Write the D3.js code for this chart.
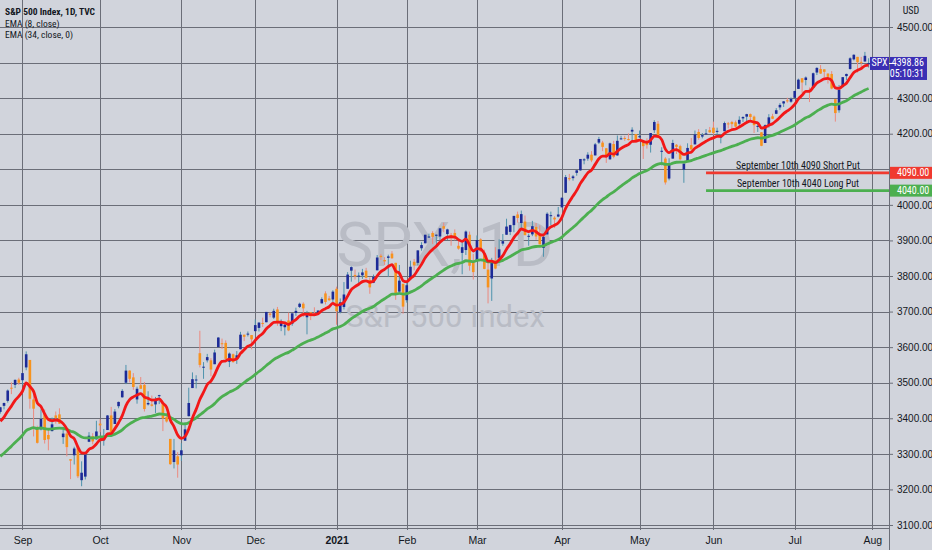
<!DOCTYPE html>
<html>
<head>
<meta charset="utf-8">
<style>
body { margin: 0; background: #d1d4dc; }
svg { display: block; font-family: "Liberation Sans Narrow", "Roboto Condensed", Roboto, "Noto Sans", sans-serif; }
</style>
</head>
<body>
<svg width="932" height="550"></svg>
<script src="https://d3js.org/d3.v7.min.js"></script>
<script>

// daily bars, SPX, 24 Aug 2020 - 30 Jul 2021
var dates = [
  "2020-08-24","2020-08-25","2020-08-26","2020-08-27","2020-08-28","2020-08-31",
  "2020-09-01","2020-09-02","2020-09-03","2020-09-04","2020-09-08","2020-09-09","2020-09-10","2020-09-11","2020-09-14","2020-09-15","2020-09-16","2020-09-17","2020-09-18","2020-09-21","2020-09-22","2020-09-23","2020-09-24","2020-09-25","2020-09-28","2020-09-29","2020-09-30",
  "2020-10-01","2020-10-02","2020-10-05","2020-10-06","2020-10-07","2020-10-08","2020-10-09","2020-10-12","2020-10-13","2020-10-14","2020-10-15","2020-10-16","2020-10-19","2020-10-20","2020-10-21","2020-10-22","2020-10-23","2020-10-26","2020-10-27","2020-10-28","2020-10-29","2020-10-30",
  "2020-11-02","2020-11-03","2020-11-04","2020-11-05","2020-11-06","2020-11-09","2020-11-10","2020-11-11","2020-11-12","2020-11-13","2020-11-16","2020-11-17","2020-11-18","2020-11-19","2020-11-20","2020-11-23","2020-11-24","2020-11-25","2020-11-27","2020-11-30",
  "2020-12-01","2020-12-02","2020-12-03","2020-12-04","2020-12-07","2020-12-08","2020-12-09","2020-12-10","2020-12-11","2020-12-14","2020-12-15","2020-12-16","2020-12-17","2020-12-18","2020-12-21","2020-12-22","2020-12-23","2020-12-24","2020-12-28","2020-12-29","2020-12-30","2020-12-31",
  "2021-01-04","2021-01-05","2021-01-06","2021-01-07","2021-01-08","2021-01-11","2021-01-12","2021-01-13","2021-01-14","2021-01-15","2021-01-19","2021-01-20","2021-01-21","2021-01-22","2021-01-25","2021-01-26","2021-01-27","2021-01-28","2021-01-29",
  "2021-02-01","2021-02-02","2021-02-03","2021-02-04","2021-02-05","2021-02-08","2021-02-09","2021-02-10","2021-02-11","2021-02-12","2021-02-16","2021-02-17","2021-02-18","2021-02-19","2021-02-22","2021-02-23","2021-02-24","2021-02-25","2021-02-26",
  "2021-03-01","2021-03-02","2021-03-03","2021-03-04","2021-03-05","2021-03-08","2021-03-09","2021-03-10","2021-03-11","2021-03-12","2021-03-15","2021-03-16","2021-03-17","2021-03-18","2021-03-19","2021-03-22","2021-03-23","2021-03-24","2021-03-25","2021-03-26","2021-03-29","2021-03-30","2021-03-31",
  "2021-04-01","2021-04-05","2021-04-06","2021-04-07","2021-04-08","2021-04-09","2021-04-12","2021-04-13","2021-04-14","2021-04-15","2021-04-16","2021-04-19","2021-04-20","2021-04-21","2021-04-22","2021-04-23","2021-04-26","2021-04-27","2021-04-28","2021-04-29","2021-04-30",
  "2021-05-03","2021-05-04","2021-05-05","2021-05-06","2021-05-07","2021-05-10","2021-05-11","2021-05-12","2021-05-13","2021-05-14","2021-05-17","2021-05-18","2021-05-19","2021-05-20","2021-05-21","2021-05-24","2021-05-25","2021-05-26","2021-05-27","2021-05-28",
  "2021-06-01","2021-06-02","2021-06-03","2021-06-04","2021-06-07","2021-06-08","2021-06-09","2021-06-10","2021-06-11","2021-06-14","2021-06-15","2021-06-16","2021-06-17","2021-06-18","2021-06-21","2021-06-22","2021-06-23","2021-06-24","2021-06-25","2021-06-28","2021-06-29","2021-06-30",
  "2021-07-01","2021-07-02","2021-07-06","2021-07-07","2021-07-08","2021-07-09","2021-07-12","2021-07-13","2021-07-14","2021-07-15","2021-07-16","2021-07-19","2021-07-20","2021-07-21","2021-07-22","2021-07-23","2021-07-26","2021-07-27","2021-07-28","2021-07-29","2021-07-30"
];

var open = [
  3418,3435,3449,3486,3494,3509,
  3507,3543,3564,3453,3371,3369,3413,3353,3364,3408,3411,3347,3357,3285,3296,3321,3226,3236,3334,3350,3341,
  3385,3338,3367,3408,3384,3434,3459,3500,3534,3515,3453,3493,3494,3439,3439,3439,3464,3441,3404,3342,3277,3293,
  3296,3337,3406,3485,3509,3583,3544,3563,3563,3552,3600,3611,3612,3559,3580,3567,3594,3635,3638,3634,
  3645,3654,3668,3670,3694,3683,3706,3659,3656,3675,3666,3696,3713,3722,3684,3698,3693,3694,3723,3751,3737,3734,
  3764,3699,3713,3764,3815,3803,3801,3802,3815,3789,3781,3816,3857,3845,3851,3863,3837,3756,3778,
  3732,3791,3840,3837,3878,3892,3911,3921,3916,3911,3940,3918,3915,3921,3885,3865,3873,3916,3839,
  3842,3903,3864,3818,3793,3844,3851,3891,3916,3924,3943,3973,3949,3953,3913,3917,3938,3919,3879,3917,3969,3964,3967,
  3993,4034,4075,4075,4090,4097,4125,4130,4141,4139,4175,4175,4159,4128,4171,4139,4186,4188,4185,4206,4199,
  4191,4179,4177,4169,4210,4228,4150,4130,4074,4130,4169,4165,4099,4121,4168,4170,4205,4192,4201,4210,
  4217,4206,4191,4207,4229,4233,4232,4228,4243,4248,4255,4248,4220,4204,4174,4225,4249,4256,4274,4285,4294,4290,
  4301,4326,4356,4351,4321,4329,4372,4382,4381,4369,4368,4297,4266,4331,4362,4382,4409,4416,4402,4403,4395
];

var high = [
  3432,3444,3481,3501,3509,3514,
  3528,3588,3564,3479,3379,3425,3425,3368,3402,3419,3428,3376,3363,3285,3320,3324,3279,3306,3361,3358,3393,
  3397,3370,3409,3432,3426,3447,3482,3550,3535,3527,3489,3516,3502,3476,3464,3460,3466,3441,3409,3342,3342,3305,
  3330,3389,3486,3529,3521,3646,3558,3581,3569,3593,3628,3624,3619,3585,3582,3589,3643,3635,3644,3634,
  3678,3670,3683,3699,3698,3708,3713,3678,3665,3697,3695,3711,3725,3726,3702,3698,3712,3703,3740,3757,3744,3760,
  3770,3737,3783,3811,3827,3818,3810,3820,3823,3796,3804,3859,3862,3853,3860,3870,3837,3831,3778,
  3784,3843,3848,3872,3895,3916,3919,3926,3917,3935,3950,3933,3921,3931,3902,3895,3928,3925,3862,
  3914,3906,3874,3843,3851,3881,3903,3918,3961,3944,3969,3981,3984,3970,3919,3955,3949,3942,3919,3979,3981,3968,3994,
  4021,4084,4087,4084,4098,4129,4131,4148,4151,4174,4191,4180,4160,4175,4180,4195,4194,4194,4201,4218,4199,
  4209,4179,4187,4202,4238,4236,4162,4134,4131,4183,4171,4169,4116,4173,4188,4209,4213,4202,4213,4219,
  4234,4217,4198,4234,4233,4236,4237,4249,4249,4256,4257,4251,4233,4204,4226,4255,4256,4272,4286,4292,4301,4302,
  4321,4355,4356,4361,4330,4372,4387,4393,4381,4370,4376,4297,4337,4359,4369,4415,4423,4416,4416,4430,4412
];

var low = [
  3413,3425,3444,3468,3485,3494,
  3494,3535,3427,3349,3329,3366,3329,3310,3363,3385,3384,3328,3293,3229,3270,3232,3209,3228,3333,3327,3340,
  3361,3323,3367,3354,3384,3428,3458,3496,3501,3480,3441,3483,3419,3436,3433,3415,3440,3364,3388,3269,3259,3233,
  3280,3337,3405,3485,3484,3543,3511,3557,3518,3552,3600,3595,3567,3544,3556,3553,3594,3617,3630,3594,
  3645,3644,3657,3670,3684,3679,3660,3645,3633,3645,3660,3688,3710,3685,3636,3676,3689,3690,3723,3720,3730,3726,
  3663,3695,3706,3764,3784,3790,3777,3792,3793,3750,3780,3816,3845,3831,3797,3848,3733,3756,3694,
  3725,3791,3816,3830,3871,3892,3907,3890,3885,3896,3923,3901,3885,3900,3874,3805,3859,3815,3790,
  3842,3868,3819,3723,3730,3819,3851,3885,3916,3915,3923,3950,3935,3914,3885,3912,3902,3889,3854,3917,3943,3935,3965,
  3993,4034,4068,4068,4082,4096,4114,4124,4120,4139,4171,4151,4118,4127,4131,4138,4183,4180,4181,4177,4174,
  4188,4129,4158,4147,4202,4188,4111,4057,4069,4130,4143,4125,4062,4121,4151,4170,4183,4187,4198,4203,
  4197,4198,4173,4207,4215,4211,4219,4220,4233,4234,4238,4202,4205,4165,4174,4217,4241,4255,4267,4275,4287,4287,
  4301,4326,4315,4336,4289,4329,4365,4368,4359,4341,4325,4234,4259,4331,4351,4380,4406,4372,4388,4403,4386
];

var close = [
  3431,3443,3478,3484,3508,3500,
  3527,3580,3455,3427,3331,3398,3339,3341,3383,3401,3385,3357,3319,3281,3315,3237,3247,3298,3351,3335,3363,
  3380,3348,3408,3361,3419,3446,3477,3534,3511,3488,3483,3483,3426,3443,3435,3453,3465,3400,3391,3271,3310,3270,
  3310,3369,3443,3510,3509,3550,3545,3572,3537,3585,3627,3610,3567,3582,3558,3577,3635,3629,3638,3622,
  3662,3669,3666,3699,3692,3702,3673,3668,3663,3647,3695,3702,3722,3709,3694,3687,3690,3703,3735,3727,3732,3756,
  3701,3726,3748,3804,3825,3799,3801,3810,3795,3768,3798,3852,3853,3841,3855,3850,3750,3787,3714,
  3774,3826,3830,3872,3887,3916,3911,3910,3916,3934,3933,3931,3913,3907,3877,3881,3925,3829,3811,
  3901,3870,3820,3768,3842,3821,3875,3898,3939,3943,3969,3963,3974,3915,3913,3940,3911,3889,3910,3975,3971,3959,3973,
  4020,4078,4074,4080,4097,4129,4128,4141,4125,4170,4185,4163,4135,4173,4135,4180,4187,4186,4184,4211,4181,
  4193,4165,4168,4202,4233,4189,4152,4063,4113,4174,4163,4128,4116,4160,4156,4198,4188,4196,4201,4204,
  4202,4208,4192,4230,4227,4227,4220,4239,4247,4255,4247,4224,4222,4166,4224,4246,4242,4266,4281,4291,4291,4298,
  4320,4352,4344,4358,4320,4370,4385,4369,4374,4360,4327,4258,4323,4359,4368,4412,4422,4401,4400,4419,4398.86
];

// EMA values on the first visible bar
var ema8Start = 3392;
var ema34Start = 3293;

var monthLabels = ["Sep", "Oct", "Nov", "Dec", "2021", "Feb", "Mar", "Apr", "May", "Jun", "Jul", "Aug"];
var priceTicks = [3100, 3200, 3300, 3400, 3500, 3600, 3700, 3800, 3900, 4000, 4100, 4200, 4300, 4400, 4500];

var putLevels = [4090, 4040];
var putLabels = ["September 10th 4090 Short Put", "September 10th 4040 Long Put"];
var putStart = "2021-05-27";   // bar where the put lines begin

var symbol = "SPX", countdown = "05:10:31";
var legendLines = ["S&P 500 Index, 1D, TVC", "EMA (8, close)", "EMA (34, close, 0)"];

var svg = d3.select("svg"),
    W = +svg.attr("width"),
    H = +svg.attr("height"),
    paneW = 889,
    paneH = 528;

var n = close.length;

// one slot per trading day, plus the next (future) bar for the Aug tick
var x = d3.scaleLinear().domain([0, n]).range([0.33, 872.3]);
var y = d3.scaleLinear().domain([3100, 4500]).range([525, 27]);

function ema(values, len, start) {
  var a = 2 / (len + 1), out = [start];
  for (var i = 1; i < values.length; i++) out.push(a * values[i] + (1 - a) * out[i - 1]);
  return out;
}
var ema8 = ema(close, 8, ema8Start),
    ema34 = ema(close, 34, ema34Start);

// month starts
var monthIdx = [];
dates.forEach(function(d, i) {
  if (i > 0 && d.slice(5, 7) != dates[i - 1].slice(5, 7)) monthIdx.push(i);
});
monthIdx.push(n);

var last = close[n - 1];
var tagLevels = putLevels.concat([last]);

svg.append("rect").attr("width", W).attr("height", H).attr("fill", "#d1d4dc");

svg.append("clipPath").attr("id", "pane")
  .append("rect").attr("width", paneW).attr("height", paneH);

var grid = svg.append("g").attr("stroke", "#6b6e78").attr("stroke-width", 1);
grid.selectAll(".h").data(priceTicks).enter().append("line")
    .attr("x1", 0).attr("x2", paneW)
    .attr("y1", function(d) { return Math.round(y(d)) + 0.5; })
    .attr("y2", function(d) { return Math.round(y(d)) + 0.5; });
grid.selectAll(".v").data(monthIdx).enter().append("line")
    .attr("y1", 0).attr("y2", paneH + 2)
    .attr("x1", function(d) { return Math.round(x(d)) + 0.5; })
    .attr("x2", function(d) { return Math.round(x(d)) + 0.5; });

// watermark
var wm = svg.append("g").attr("fill", "#b9bcc5").attr("text-anchor", "middle")
    .attr("font-family", "Roboto, 'Noto Sans', sans-serif");
wm.append("text").attr("x", 445).attr("y", 266)
    .attr("font-size", 62).text(symbol + ", 1D");
wm.append("text").attr("x", 445).attr("y", 327)
    .attr("font-size", 31).text("S&P 500 Index");

var plot = svg.append("g").attr("clip-path", "url(#pane)");

// candles
var bars = plot.selectAll(".bar").data(d3.range(n)).enter().append("g");
bars.append("line")
    .attr("x1", function(i) { return x(i); }).attr("x2", function(i) { return x(i); })
    .attr("y1", function(i) { return y(high[i]); }).attr("y2", function(i) { return y(low[i]); })
    .attr("stroke", function(i) { return close[i] >= open[i] ? "#4f93ad" : "#ec8a7f"; })
    .attr("stroke-width", 1);
bars.append("rect")
    .attr("x", function(i) { return x(i) - 1.3; })
    .attr("width", 2.6)
    .attr("y", function(i) { return y(Math.max(open[i], close[i])); })
    .attr("height", function(i) { return Math.max(1, Math.abs(y(open[i]) - y(close[i]))); })
    .attr("fill", function(i) { return close[i] >= open[i] ? "#1c2a97" : "#f7931e"; });

var line = d3.line()
    .x(function(d, i) { return x(i); })
    .y(function(d) { return y(d); })
    .curve(d3.curveMonotoneX);

plot.append("path").datum(ema34)
    .attr("fill", "none").attr("stroke", "#4caf50").attr("stroke-width", 2.8)
    .attr("stroke-linejoin", "round").attr("d", line);
plot.append("path").datum(ema8)
    .attr("fill", "none").attr("stroke", "#f21818").attr("stroke-width", 2.8)
    .attr("stroke-linejoin", "round").attr("d", line);

// put lines
var putColors = ["#f0392f", "#4caf50"];
var px = x(dates.indexOf(putStart));
putLevels.forEach(function(v, k) {
  svg.append("line").attr("x1", px).attr("x2", paneW)
      .attr("y1", y(v)).attr("y2", y(v))
      .attr("stroke", putColors[k]).attr("stroke-width", 2.8);
  svg.append("text").attr("x", 798).attr("y", y(v) - 4)
      .attr("text-anchor", "middle").attr("font-size", 10).attr("fill", "#131722")
      .text(putLabels[k]);
});

// pane borders
svg.append("line").attr("x1", 0).attr("x2", paneW).attr("y1", paneH + 0.5).attr("y2", paneH + 0.5)
    .attr("stroke", "#6b6e78");
svg.append("line").attr("x1", paneW + 0.5).attr("x2", paneW + 0.5).attr("y1", 0).attr("y2", H)
    .attr("stroke", "#6b6e78");

// price axis, labels hidden where a tag sits on them
var yAxis = svg.append("g")
    .attr("transform", "translate(" + paneW + ",0)")
    .call(d3.axisRight(y).tickValues(priceTicks).tickFormat(d3.format(".2f")).tickSize(4).tickPadding(4));
yAxis.select(".domain").remove();
yAxis.selectAll("line").attr("stroke", "#6b6e78");
yAxis.selectAll("text").attr("fill", "#131722").attr("font-size", 10).attr("font-family", null)
    .style("display", function(d) {
      return tagLevels.some(function(t) { return Math.abs(y(t) - y(d)) < 11; }) ? "none" : null;
    });

svg.append("text").attr("x", 911).attr("y", 14).attr("text-anchor", "middle")
    .attr("font-size", 10).attr("fill", "#131722").text("USD");

// put level tags on the axis
putLevels.forEach(function(v, k) {
  svg.append("rect").attr("x", paneW + 1).attr("y", y(v) - 6).attr("width", W - paneW - 1).attr("height", 12)
      .attr("fill", putColors[k]);
  svg.append("text").attr("x", 897).attr("y", y(v) + 3.5)
      .attr("font-size", 10).attr("fill", "#fff").text(d3.format(".2f")(v));
});

// last price tag
var ly = y(last);
svg.append("rect").attr("x", 870).attr("y", ly - 6).attr("width", 19).attr("height", 13)
    .attr("fill", "#3b2fb4");
svg.append("text").attr("x", 879.5).attr("y", ly + 3.5).attr("text-anchor", "middle")
    .attr("font-size", 10).attr("fill", "#fff").text(symbol);
svg.append("rect").attr("x", paneW + 1).attr("y", ly - 6).attr("width", 37).attr("height", 23)
    .attr("fill", "#3b2fb4");
svg.append("line").attr("x1", paneW).attr("x2", paneW + 4).attr("y1", ly + 0.5).attr("y2", ly + 0.5)
    .attr("stroke", "#fff");
svg.append("text").attr("x", 924).attr("y", ly + 3.5).attr("text-anchor", "end")
    .attr("font-size", 10).attr("fill", "#fff").text(d3.format(".2f")(last));
svg.append("text").attr("x", 924).attr("y", ly + 14.5).attr("text-anchor", "end")
    .attr("font-size", 10).attr("fill", "#fff").text(countdown);

// time axis
var xAxis = svg.append("g")
    .attr("transform", "translate(0," + paneH + ")")
    .call(d3.axisBottom(x).tickValues(monthIdx)
      .tickFormat(function(d, i) { return monthLabels[i]; }).tickSize(0).tickPadding(9));
xAxis.select(".domain").remove();
xAxis.selectAll("text").attr("fill", "#131722").attr("font-size", 10.5).attr("font-family", null)
    .attr("font-weight", function(d, i) { return monthLabels[i] == "2021" ? "bold" : null; });

// legend
var legend = svg.append("g").attr("font-size", 9.5).attr("fill", "#131722");
legend.selectAll("text").data(legendLines).enter().append("text")
    .attr("x", 5).attr("y", function(d, i) { return 15 + i * 11.5; })
    .attr("font-weight", function(d, i) { return i == 0 ? "bold" : null; })
    .text(function(d) { return d; });

</script>
</body>
</html>
